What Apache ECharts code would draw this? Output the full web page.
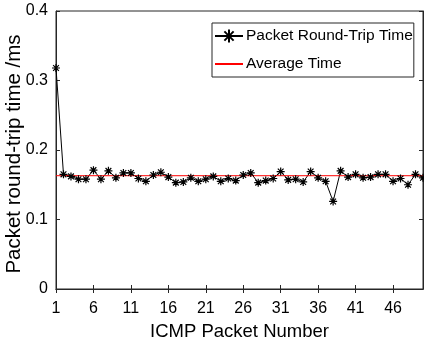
<!DOCTYPE html>
<html><head><meta charset="utf-8">
<script src="https://cdn.jsdelivr.net/npm/echarts@6/dist/echarts.min.js"></script>
<style>html,body{margin:0;padding:0;background:#fff}#c{width:424px;height:342px}</style>
</head><body><div id="c"></div>
<script>
const packetNumbers = Array.from({length:50},(_,i)=>String(i+1));
const rttValues = [0.318,0.165,0.162,0.158,0.158,0.171,0.158,0.170,0.160,0.167,
  0.167,0.159,0.155,0.164,0.168,0.161,0.153,0.154,0.160,0.155,
  0.158,0.162,0.155,0.159,0.156,0.164,0.167,0.153,0.156,0.159,
  0.169,0.157,0.158,0.154,0.169,0.160,0.155,0.126,0.170,0.161,
  0.165,0.160,0.161,0.165,0.165,0.155,0.159,0.150,0.165,0.160];
const averageTime = 0.163;
const yTicks = [0,0.1,0.2,0.3,0.4];
const seriesNames = ['Packet Round-Trip Time','Average Time'];

const FONT = 'Liberation Sans, Arial, sans-serif';
const AX = '#262626';
const star = 'path://M0,-5L0,5M-5,0L5,0M-3.6,-3.6L3.6,3.6M-3.6,3.6L3.6,-3.6';
const tickEvery5 = (i)=> i%5===0;

const chart = echarts.init(document.getElementById('c'));
chart.setOption({
  animation:false,
  backgroundColor:'#fff',
  grid:{left:56,right:1,top:11,bottom:53,show:true,borderColor:AX,borderWidth:1,backgroundColor:'#fff',
        containLabel:false, outerBoundsMode:'none'},
  legend:{
    orient:'vertical', left:212, top:23,
    data:[
      {name:seriesNames[0]},
      {name:seriesNames[1], itemStyle:{opacity:0}}
    ],
    itemWidth:28, itemHeight:16, itemGap:12,
    backgroundColor:'#fff', borderColor:AX, borderWidth:1, padding:[5,1,5,2],
    textStyle:{fontFamily:FONT,fontSize:15.5,color:'#000',padding:[0,0,0,-2]}
  },
  xAxis:[{
    type:'category', data:packetNumbers, boundaryGap:false,
    name:'ICMP Packet Number', nameLocation:'middle', nameGap:33, nameMoveOverlap:false,
    nameTextStyle:{fontFamily:FONT,fontSize:18.5,color:'#000'},
    axisLine:{lineStyle:{color:AX}},
    axisTick:{inside:true,length:4,interval:tickEvery5,lineStyle:{color:AX}},
    axisLabel:{interval:tickEvery5,fontFamily:FONT,fontSize:16,color:'#000',margin:12},
    splitLine:{show:false}
  },{
    type:'category', data:packetNumbers, boundaryGap:false, position:'top',
    axisLine:{lineStyle:{color:AX}},
    axisTick:{inside:true,length:4,interval:tickEvery5,lineStyle:{color:AX}},
    axisLabel:{show:false}, splitLine:{show:false}
  }],
  yAxis:[{
    type:'value', min:yTicks[0], max:yTicks[yTicks.length-1], interval:0.1,
    name:'Packet round-trip time /ms', nameLocation:'middle', nameGap:31, nameMoveOverlap:false,
    nameTextStyle:{fontFamily:FONT,fontSize:20.5,color:'#000',padding:[0,8,0,0]},
    axisLine:{show:true,lineStyle:{color:AX}},
    axisTick:{show:true,inside:true,length:4,lineStyle:{color:AX}},
    axisLabel:{fontFamily:FONT,fontSize:16,color:'#000',margin:8,formatter:v=>String(+v.toFixed(1))},
    splitLine:{show:false}
  },{
    type:'value', min:yTicks[0], max:yTicks[yTicks.length-1], interval:0.1, position:'right',
    axisLine:{show:true,lineStyle:{color:AX}},
    axisTick:{show:true,inside:true,length:4,lineStyle:{color:AX}},
    axisLabel:{show:false}, splitLine:{show:false}
  }],
  series:[{
    name:seriesNames[0], type:'line', data:rttValues,
    symbol:star, symbolSize:8, showAllSymbol:true,
    lineStyle:{color:'#000',width:1},
    itemStyle:{color:'#000',borderColor:'#000',borderWidth:1.2}
  },{
    name:seriesNames[1], type:'line', symbol:'none',
    data:[[packetNumbers[0],averageTime],[packetNumbers[packetNumbers.length-1],averageTime]],
    lineStyle:{color:'#ff0000',width:1},
    itemStyle:{color:'#ff0000'}
  }]
});
</script></body></html>
